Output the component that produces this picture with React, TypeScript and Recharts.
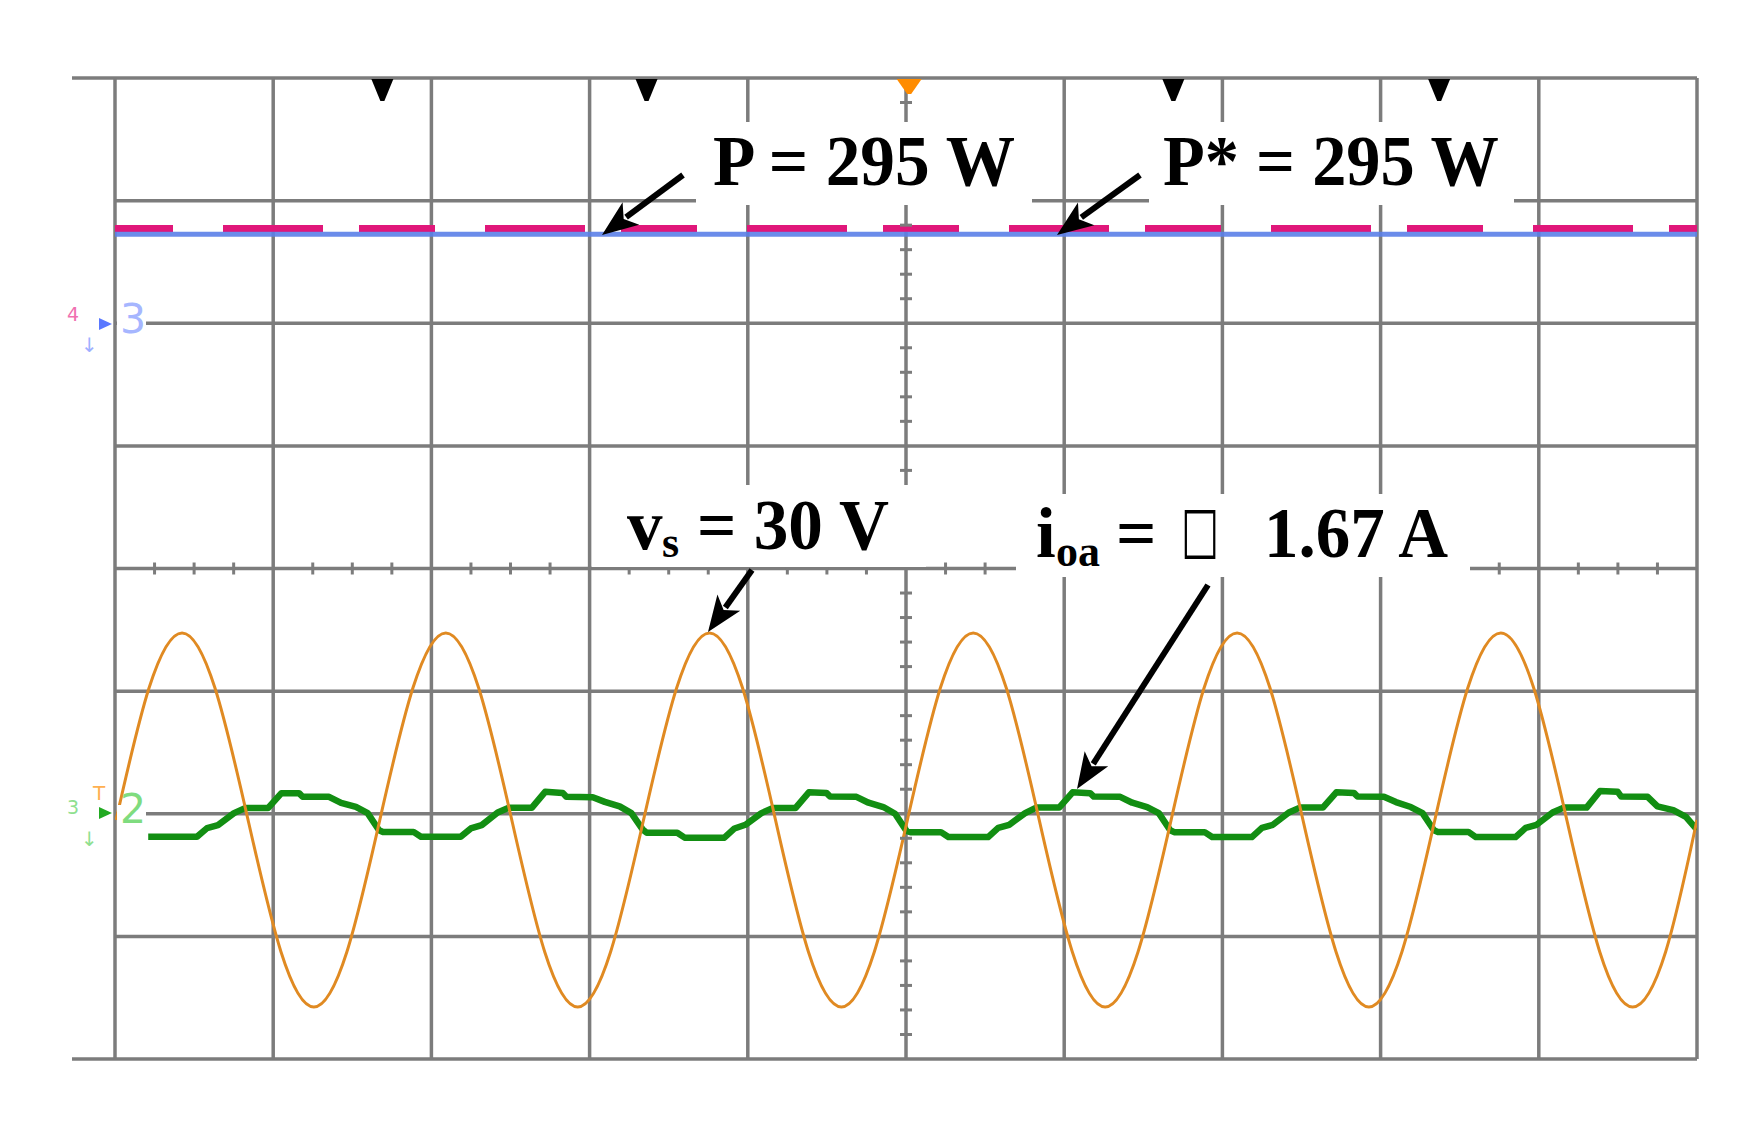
import React from 'react'
import { LineChart, Line, XAxis, YAxis, CartesianGrid, ReferenceDot } from 'recharts'

const W = 1752
const H = 1135
const PLOT = { left: 115, right: 1697, top: 78, bottom: 1059 }

// 10 ms/div, 10 divisions; 8 vertical divisions
const timeTicks = [0, 10, 20, 30, 40, 50, 60, 70, 80, 90, 100]
const divTicks = [-4, -3, -2, -1, 0, 1, 2, 3, 4]

// ch3 / ch4 : P and P* (W)
const powerTime = [0, 100]
const powerP = [290, 290]
const powerPref = [309, 309]

// ch1 : vs (V)
const vsTime = [
  0.07, 2.15, 4.24, 6.32, 8.41, 10.49, 12.57, 14.66, 16.74, 18.83, 20.91, 22.99,
  25.08, 27.16, 29.25, 31.33, 33.41, 35.5, 37.58, 39.67, 41.75, 43.83, 45.92, 48.0,
  50.09, 52.17, 54.25, 56.34, 58.42, 60.51, 62.59, 64.67, 66.76, 68.84, 70.93, 73.01,
  75.09, 77.18, 79.26, 81.35, 83.43, 85.51, 87.6, 89.68, 91.77, 93.85, 95.93, 98.02, 100,
]
const vsValues = [
  -1, 20.5, 29.5, 20.5, -1, -22.5, -31.5, -22.5,
  -1, 20.5, 29.5, 20.5, -1, -22.5, -31.5, -22.5,
  -1, 20.5, 29.5, 20.5, -1, -22.5, -31.5, -22.5,
  -1, 20.5, 29.5, 20.5, -1, -22.5, -31.5, -22.5,
  -1, 20.5, 29.5, 20.5, -1, -22.5, -31.5, -22.5,
  -1, 20.5, 29.5, 20.5, -1, -22.5, -31.5, -22.5,
  -1,
]

// ch2 : ioa (A)
const ioaTime = [
  2.1, 5.18, 5.82, 6.51, 7.52, 8.22, 9.67, 10.52, 11.63, 11.86, 13.53, 14.29, 15.23, 15.97, 16.69, 16.94, 18.87, 19.34,
  21.85, 22.49, 23.18, 24.19, 24.89, 26.34, 27.19, 28.3, 28.53, 30.2, 30.96, 31.9, 32.64, 33.36, 33.61, 35.54, 36.01,
  38.52, 39.16, 39.85, 40.86, 41.56, 43.01, 43.86, 44.97, 45.2, 46.87, 47.63, 48.57, 49.31, 50.03, 50.28, 52.21, 52.68,
  55.19, 55.83, 56.52, 57.53, 58.23, 59.68, 60.53, 61.64, 61.87, 63.54, 64.3, 65.24, 65.98, 66.7, 66.95, 68.88, 69.35,
  71.86, 72.5, 73.19, 74.2, 74.9, 76.35, 77.2, 78.31, 78.54, 80.21, 80.97, 81.91, 82.65, 83.37, 83.62, 85.55, 86.02,
  88.53, 89.17, 89.86, 90.87, 91.57, 93.02, 93.87, 94.98, 95.21, 96.88, 97.5, 98.5, 99.3, 100,
]
const ioaValues = [
  -1.88, -1.88, -1.17, -0.93, 0.05, 0.46, 0.46, 1.68, 1.68, 1.38, 1.38, 0.89, 0.56, 0.05, -1.34, -1.48, -1.48, -1.88,
  -1.88, -1.2, -0.93, 0.1, 0.48, 0.48, 1.79, 1.7, 1.38, 1.35, 0.97, 0.6, 0.05, -1.3, -1.55, -1.55, -1.95,
  -1.95, -1.2, -0.9, 0.05, 0.46, 0.46, 1.75, 1.7, 1.4, 1.38, 0.9, 0.55, 0.0, -1.4, -1.5, -1.5, -1.9,
  -1.9, -1.15, -0.9, 0.05, 0.5, 0.5, 1.75, 1.68, 1.4, 1.38, 0.9, 0.55, 0.05, -1.35, -1.5, -1.5, -1.9,
  -1.9, -1.15, -0.9, 0.1, 0.5, 0.5, 1.75, 1.7, 1.4, 1.38, 0.95, 0.55, 0.05, -1.35, -1.48, -1.48, -1.9,
  -1.9, -1.15, -0.9, 0.1, 0.5, 0.5, 1.85, 1.8, 1.4, 1.38, 0.6, 0.3, -0.25, -1.3,
]

const cursorTimes = [16.9, 33.6, 66.9, 83.7]
const triggerTime = 50.2

const powerData = powerTime.map((t, i) => ({ t, p: powerP[i], pref: powerPref[i] }))
const vsData = vsTime.map((t, i) => ({ t, v: vsValues[i] }))
const ioaData = ioaTime.map((t, i) => ({ t, i: ioaValues[i] }))

const GRID = '#7c7c7c'
const SERIF = "'Liberation Serif', 'Times New Roman', serif"
const SANS = "'DejaVu Sans', sans-serif"

const cursorShape = (color: string, w: number, h: number) => (props: any) => {
  const { cx, cy } = props
  return (
    <polygon
      points={`${cx - w / 2},${cy + 1} ${cx + w / 2},${cy + 1} ${cx + 2},${cy + h} ${cx - 2},${cy + h}`}
      fill={color}
    />
  )
}

// grid lines placed through the axis scales
const vGrid = ({ xAxis, offset }: any) =>
  timeTicks.map((t) =>
    xAxis && typeof xAxis.scale === 'function'
      ? xAxis.scale(t)
      : offset.left + (t / 100) * offset.width
  )
const hGrid = ({ yAxis, offset }: any) =>
  divTicks.map((d) =>
    yAxis && typeof yAxis.scale === 'function'
      ? yAxis.scale(d)
      : offset.top + ((4 - d) / 8) * offset.height
  )

const Arrow = ({ x1, y1, x2, y2 }: { x1: number; y1: number; x2: number; y2: number }) => {
  const dx = x2 - x1
  const dy = y2 - y1
  const len = Math.hypot(dx, dy)
  const ux = dx / len
  const uy = dy / len
  const hl = 36
  const hw = 14
  const bx = x2 - ux * hl
  const by = y2 - uy * hl
  const nx = -uy
  const ny = ux
  return (
    <g>
      <line x1={x1} y1={y1} x2={bx + ux * 6} y2={by + uy * 6} stroke="#000" strokeWidth={6} />
      <polygon
        points={`${x2},${y2} ${bx + nx * hw},${by + ny * hw} ${bx + ux * 9},${by + uy * 9} ${bx - nx * hw},${by - ny * hw}`}
        fill="#000"
      />
    </g>
  )
}

const Overlay = () => {
  const pw = PLOT.right - PLOT.left
  const ph = PLOT.bottom - PLOT.top
  const cx = PLOT.left + pw / 2
  const cy = PLOT.top + ph / 2
  const xTicks: number[] = []
  for (let k = 1; k < 40; k++) if (k % 4) xTicks.push(PLOT.left + (k * pw) / 40)
  const yTicks: number[] = []
  for (let k = 1; k < 40; k++) if (k % 5) yTicks.push(PLOT.top + (k * ph) / 40)
  const lbl = { fontFamily: SERIF, fontWeight: 700, fill: '#000' } as const
  return (
    <svg width={W} height={H} style={{ position: 'absolute', left: 0, top: 0, pointerEvents: 'none' }}>
      {/* frame extensions */}
      <line x1={72} y1={PLOT.top} x2={PLOT.left} y2={PLOT.top} stroke={GRID} strokeWidth={3.5} />
      <line x1={72} y1={PLOT.bottom} x2={PLOT.left} y2={PLOT.bottom} stroke={GRID} strokeWidth={3.5} />
      {/* centre graticule minor ticks */}
      {xTicks.map((x) => (
        <line key={'xt' + x} x1={x} y1={cy - 6} x2={x} y2={cy + 6} stroke={GRID} strokeWidth={3} />
      ))}
      {yTicks.map((y) => (
        <line key={'yt' + y} x1={cx - 6} y1={y} x2={cx + 6} y2={y} stroke={GRID} strokeWidth={3} />
      ))}

      {/* label backgrounds */}
      <rect x={696} y={122} width={336} height={83} fill="#fff" />
      <rect x={1149} y={122} width={365} height={83} fill="#fff" />
      <rect x={592} y={485} width={334} height={82} fill="#fff" />
      <rect x={1016} y={494} width={454} height={83} fill="#fff" />

      {/* channel markers */}
      <rect x={117} y={315} width={29} height={16} fill="#fff" />
      <rect x={117} y={805} width={29} height={16} fill="#fff" />
      <text x={120} y={333} fontFamily={SANS} fontSize={41} fill="#a6b6ff">3</text>
      <text x={67} y={321} fontFamily={SANS} fontSize={19} fill="#f070b0">4</text>
      <text x={81} y={352} fontFamily={SANS} fontSize={20} fill="#9fb0ff">↓</text>
      <polygon points="99,318 112,324 99,330" fill="#5a78ff" />
      <text x={120} y={823} fontFamily={SANS} fontSize={41} fill="#7fdc7f">2</text>
      <text x={67} y={814} fontFamily={SANS} fontSize={19} fill="#8fe08f">3</text>
      <text x={81} y={846} fontFamily={SANS} fontSize={20} fill="#8fe08f">↓</text>
      <text x={93} y={800} fontFamily={SANS} fontSize={20} fill="#ffb050">T</text>
      <polygon points="99,807 112,813 99,819" fill="#22aa22" />

      {/* annotations */}
      <text x={713} y={185} fontSize={71} textLength={302} lengthAdjust="spacingAndGlyphs" {...lbl}>
        P = 295 W
      </text>
      <text x={1163} y={185} fontSize={71} textLength={336} lengthAdjust="spacingAndGlyphs" {...lbl}>
        P* = 295 W
      </text>
      <text x={627} y={549} fontSize={71} {...lbl}>v</text>
      <text x={662} y={557} fontSize={44} {...lbl}>s</text>
      <text x={697} y={549} fontSize={71} textLength={192} lengthAdjust="spacingAndGlyphs" {...lbl}>
        = 30 V
      </text>
      <text x={1036} y={557} fontSize={71} {...lbl}>i</text>
      <text x={1056} y={566} fontSize={44} {...lbl}>oa</text>
      <text x={1116} y={557} fontSize={71} {...lbl}>=</text>
      <text x={1181} y={551} fontSize={64} textLength={38} lengthAdjust="spacingAndGlyphs" fontFamily={SANS} fill="#000">□</text>
      <text x={1264} y={557} fontSize={71} textLength={184} lengthAdjust="spacingAndGlyphs" {...lbl}>
        1.67 A
      </text>

      <Arrow x1={683} y1={175} x2={602} y2={235} />
      <Arrow x1={1140} y1={175} x2={1057} y2={235} />
      <Arrow x1={752} y1={570} x2={708} y2={632} />
      <Arrow x1={1208} y1={585} x2={1077} y2={789} />
    </svg>
  )
}

export default function App() {
  return (
    <div style={{ position: 'absolute', left: 0, top: 0, width: W, height: H, background: '#fff' }}>
      <LineChart
        width={W}
        height={H}
        margin={{ left: PLOT.left, right: W - PLOT.right, top: PLOT.top, bottom: H - PLOT.bottom }}
      >
        <CartesianGrid
          stroke={GRID}
          strokeWidth={3.5}
          verticalCoordinatesGenerator={vGrid}
          horizontalCoordinatesGenerator={hGrid}
        />
        <XAxis
          dataKey="t"
          type="number"
          domain={[0, 100]}
          ticks={timeTicks}
          tick={false}
          tickLine={false}
          axisLine={false}
          height={0}
          allowDataOverflow
        />
        <YAxis
          type="number"
          domain={[-4, 4]}
          ticks={divTicks}
          tick={false}
          tickLine={false}
          axisLine={false}
          width={0}
          allowDataOverflow
        />
        {/* channel scales: ch2 ref at -2 div, ch3/4 ref at +2 div */}
        <YAxis yAxisId="v" type="number" domain={[-40, 120]} hide />
        <YAxis yAxisId="i" type="number" domain={[-20, 60]} hide />
        <YAxis yAxisId="p" type="number" domain={[-2400, 800]} hide />

        <Line
          data={powerData}
          yAxisId="p"
          dataKey="pref"
          stroke="#e0177a"
          strokeWidth={7}
          strokeDasharray="76 50 100 36"
          strokeDashoffset={18}
          dot={false}
          activeDot={false}
          isAnimationActive={false}
        />
        <Line
          data={powerData}
          yAxisId="p"
          dataKey="p"
          stroke="#5b80e8"
          strokeOpacity={0.9}
          strokeWidth={5}
          dot={false}
          activeDot={false}
          isAnimationActive={false}
        />
        <Line
          data={ioaData}
          yAxisId="i"
          dataKey="i"
          type="linear"
          stroke="#128e12"
          strokeWidth={6.5}
          strokeLinejoin="round"
          dot={false}
          activeDot={false}
          isAnimationActive={false}
        />
        <Line
          data={vsData}
          yAxisId="v"
          dataKey="v"
          type="natural"
          stroke="#e08a22"
          strokeWidth={3}
          dot={false}
          activeDot={false}
          isAnimationActive={false}
        />

        {cursorTimes.map((t) => (
          <ReferenceDot key={t} x={t} y={4} r={1} ifOverflow="visible" shape={cursorShape('#000', 22, 23)} />
        ))}
        <ReferenceDot x={triggerTime} y={4} r={1} ifOverflow="visible" shape={cursorShape('#ff8c00', 25, 16)} />
      </LineChart>
      <Overlay />
    </div>
  )
}
